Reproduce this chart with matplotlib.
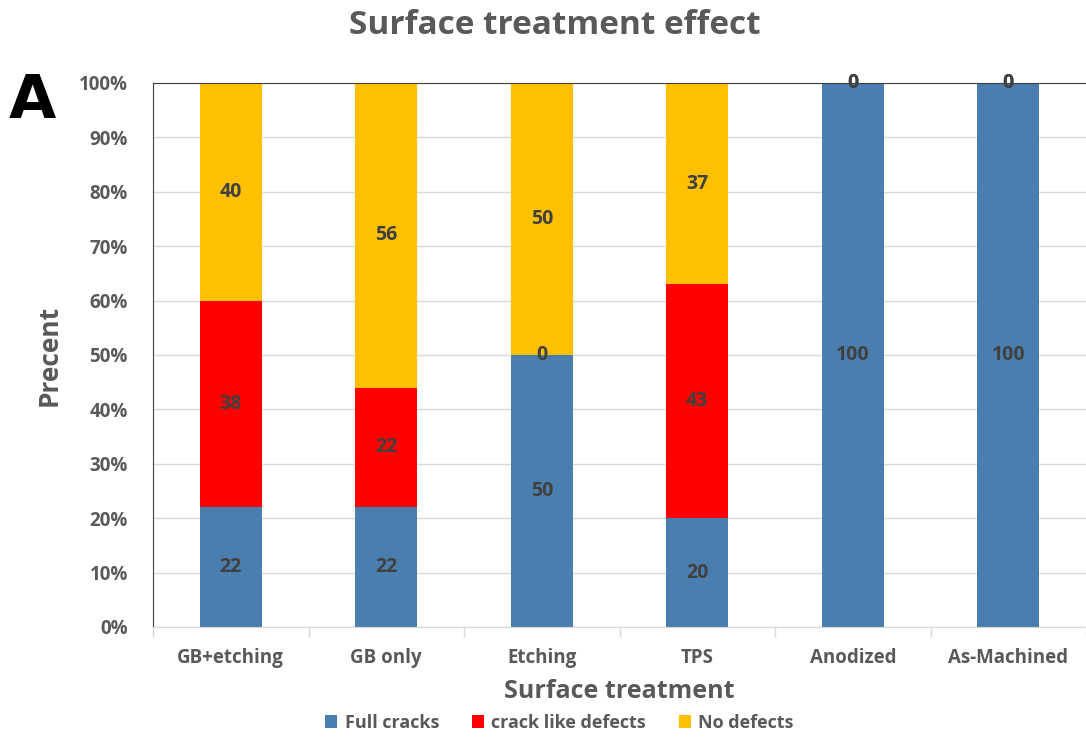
import numpy as np
import matplotlib.pyplot as plt

plt.rcParams['font.family'] = ['Open Sans', 'DejaVu Sans']

categories = ['GB+etching', 'GB only', 'Etching', 'TPS', 'Anodized', 'As-Machined']
full_cracks = [22, 22, 50, 20, 100, 100]
crack_like = [38, 22, 0, 43, 0, 0]
no_defects = [40, 56, 50, 37, 0, 0]
series_names = ['Full cracks', 'crack like defects', 'No defects']
colors = ['#4A7EAF', '#FF0000', '#FFC000']

txt = '#595959'
fig = plt.figure(figsize=(10.86, 7.38), dpi=100)
ax = fig.add_axes([153 / 1086, 1 - 627 / 738, 1 - 153 / 1086, 544 / 738])

x = np.arange(len(categories))
bottom = np.zeros(len(categories))
for vals, name, c in zip([full_cracks, crack_like, no_defects], series_names, colors):
    vals = np.array(vals, dtype=float)
    ax.bar(x, vals, 0.4, bottom=bottom, color=c, label=name, zorder=2)
    for xi, b, v in zip(x, bottom, vals):
        ax.text(xi, b + v / 2, f'{int(v)}', ha='center', va='center',
                fontsize=14, fontweight='bold', color='#404040', zorder=3)
    bottom += vals

ax.set_xlim(-0.5, len(categories) - 0.5)
ax.set_ylim(0, 100)
ax.set_yticks(np.arange(0, 101, 10))
ax.set_yticklabels([f'{v}%' for v in range(0, 101, 10)])
ax.yaxis.grid(True, color='#D9D9D9', linewidth=1, zorder=0)
ax.set_axisbelow(True)
ax.tick_params(axis='y', length=0, pad=18, labelsize=13.5, labelcolor=txt)
for lbl in ax.get_yticklabels():
    lbl.set_fontweight('bold')

# category labels with boundary ticks
ax.set_xticks(np.arange(-0.5, len(categories)), minor=False)
ax.set_xticklabels([])
ax.tick_params(axis='x', which='major', length=7, color='#D9D9D9', width=1)
ax.set_xticks(x, minor=True)
ax.set_xticklabels(categories, minor=True)
ax.tick_params(axis='x', which='minor', length=0, pad=15, labelsize=13.5, labelcolor=txt)
for lbl in ax.get_xticklabels(minor=True):
    lbl.set_fontweight('bold')

ax.spines['right'].set_visible(False)
ax.spines['left'].set_color('#404040')
ax.spines['top'].set_color('#404040')
ax.spines['bottom'].set_color('#D9D9D9')

ax.set_xlabel('Surface treatment', fontsize=18, fontweight='bold', color=txt, labelpad=8)
ax.set_ylabel('Precent', fontsize=19, fontweight='bold', color=txt, labelpad=12)
fig.text(0.511, 0.966, 'Surface treatment effect', ha='center', va='center',
         fontsize=24, fontweight='bold', color=txt)
fig.text(0.008, 0.862, 'A', ha='left', va='center', fontsize=44, fontweight='heavy',
         color='black', family='DejaVu Sans')

leg = fig.legend(loc='lower center', bbox_to_anchor=(0.515, -0.014), ncol=3, frameon=False,
                 fontsize=13, handlelength=0.7, handleheight=0.7, handletextpad=0.4,
                 columnspacing=1.8)
for t in leg.get_texts():
    t.set_color(txt)
    t.set_fontweight('bold')

fig.savefig('out.png', dpi=100)
